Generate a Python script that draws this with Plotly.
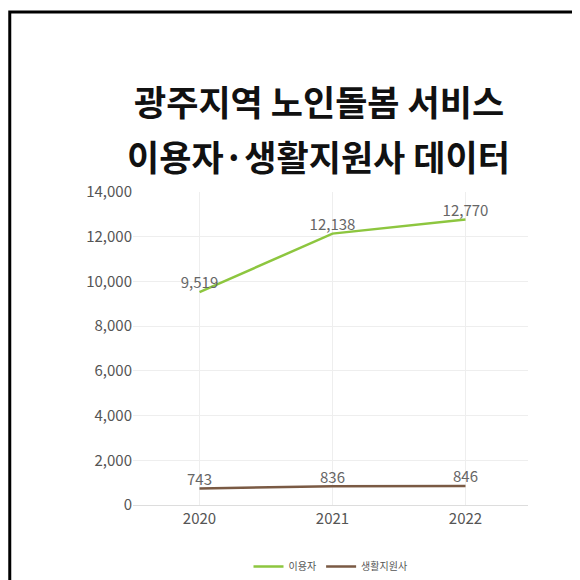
import plotly.graph_objects as go

years = ["2020", "2021", "2022"]
users = [9519, 12138, 12770]
workers = [743, 836, 846]
series_names = ["이용자", "생활지원사"]
title_lines = ["광주지역 노인돌봄 서비스", "이용자·생활지원사 데이터"]

fig = go.Figure()
fig.add_trace(go.Scatter(x=years, y=users, name=series_names[0], mode="lines+text",
    line=dict(color="#8dc63f", width=2.5), text=[f"{v:,}" for v in users],
    textposition="top center", textfont=dict(size=15, color="#666"), cliponaxis=False))
fig.add_trace(go.Scatter(x=years, y=workers, name=series_names[1], mode="lines+text",
    line=dict(color="#7a5a44", width=2.5), text=[f"{v:,}" for v in workers],
    textposition="top center", textfont=dict(size=15, color="#666"), cliponaxis=False))

fig.update_layout(
    width=580, height=580, paper_bgcolor="white", plot_bgcolor="white",
    font=dict(family="Noto Sans CJK KR", color="#555"),
    margin=dict(l=125, r=60, t=184, b=83, autoexpand=False),
    xaxis=dict(range=[-0.5, 2.47], showgrid=True, gridcolor="#eee",
               tickfont=dict(size=15, color="#555"), showline=True, linecolor="#ddd", ticks=""),
    yaxis=dict(range=[0, 14000], dtick=2000, tickformat=",", gridcolor="#eee",
               tickfont=dict(size=15, color="#555"), zeroline=True, zerolinecolor="#ddd"),
    legend=dict(orientation="h", x=0.5, xanchor="center", y=-0.15, yanchor="top",
                font=dict(size=10, color="#555"), itemwidth=30),
    annotations=[
        dict(text=f"<b>{title_lines[0]}</b>", xref="paper", yref="paper", x=0.47, y=1.38,
             showarrow=False, font=dict(size=35, color="#111")),
        dict(text=f"<b>{title_lines[1]}</b>", xref="paper", yref="paper", x=0.47, y=1.204,
             showarrow=False, font=dict(size=35, color="#111")),
    ],
    shapes=[dict(type="rect", xref="paper", yref="paper", x0=-0.312, x1=1.14,
                 y0=-0.252, y1=1.575, line=dict(color="black", width=3))],
)
fig.write_html("out.html")
